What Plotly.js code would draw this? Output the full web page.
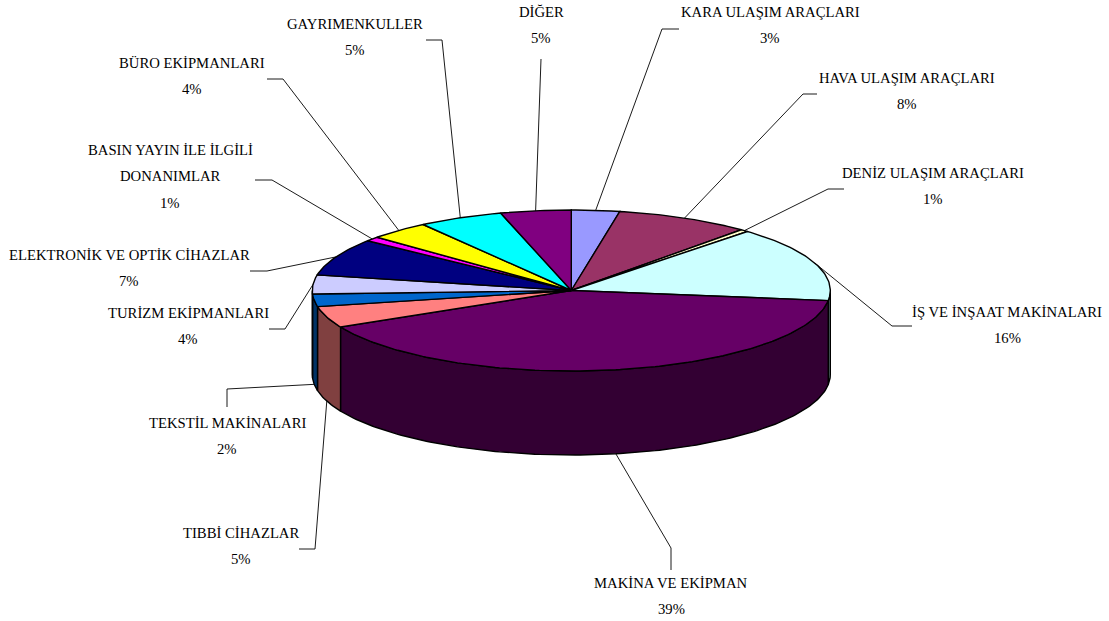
<!DOCTYPE html>
<html>
<head>
<meta charset="utf-8">
<script src="https://cdn.plot.ly/plotly-3.0.1.min.js"></script>
<style>html,body{margin:0;padding:0;background:#fff}#chart{width:1109px;height:621px}</style>
</head>
<body>
<div id="chart"></div>
<script>
// Data, clockwise from 12 o'clock
const categories = ["KARA ULAŞIM ARAÇLARI","HAVA ULAŞIM ARAÇLARI","DENİZ ULAŞIM ARAÇLARI","İŞ VE İNŞAAT MAKİNALARI","MAKİNA VE EKİPMAN","TIBBİ CİHAZLAR","TEKSTİL MAKİNALARI","TURİZM EKİPMANLARI","ELEKTRONİK VE OPTİK CİHAZLAR","BASIN YAYIN İLE İLGİLİ<br>DONANIMLAR","BÜRO EKİPMANLARI","GAYRIMENKULLER","DİĞER"];
const sliceShares = [3.0,8.4,0.5,15.1,40.5,4.3,2.5,3.8,7.5,0.9,3.8,5.3,4.4];
const printedPercents = ["3%","8%","1%","16%","39%","5%","2%","4%","7%","1%","4%","5%","5%"];

// Styling
const sliceColors = ["#9999FF","#993366","#FFFFCC","#CCFFFF","#660066","#FF8080","#0066CC","#CCCCFF","#000080","#FF00FF","#FFFF00","#00FFFF","#800080"];
const W = 1109, H = 621;
const CX = 571.3, CY = 290.5, RX = 259, RY = 80.5, DEPTH = 84;
const FONT = {family:'"Liberation Serif","Times New Roman",serif', size:14.7, color:'#000'};
const LINE_GAP = 26.3;
// Label placement: [centre x, first line y], and the leader's elbow points from the text outward
const labelPlace = [[770,12],[907,78],[933,173],[1007,312],[671,583],[241,533],[227,423],[188,313],[129,255],[170,150],[192,63],[355,24],[541,12]];
const leaderElbows = [
  [[679,29],[662,29]],
  [[817,94],[803,94]],
  [[844,189],[828,189]],
  [[912,326],[892,326]],
  [[671,570],[671,548]],
  [[299,549],[315,549]],
  [[227,407],[227,389]],
  [[269,329],[285,329]],
  [[250,271],[267,271]],
  [[255,180],[272,180]],
  [[267,79],[283,79]],
  [[426,40],[442,40]],
  [[541,59]]
];

const darken = hex => '#' + [1,3,5].map(i => Math.round(parseInt(hex.substr(i,2),16)/2).toString(16).padStart(2,'0')).join('');
const rimX = t => CX + RX*Math.sin(t*Math.PI/180);
const rimY = t => CY - RY*Math.cos(t*Math.PI/180);
const arc = (a,b) => { const n = Math.max(2,Math.ceil(Math.abs(b-a)))+1, o=[]; for(let i=0;i<n;i++) o.push(a+(b-a)*i/(n-1)); return o; };

const total = sliceShares.reduce((a,b)=>a+b,0);
let acc = 0;
const spans = sliceShares.map(v => { const a = acc/total*360; acc += v; return [a, acc/total*360]; });

const traces = [];
const polygon = (xs,ys,fill) => traces.push({type:'scatter',mode:'lines',x:xs,y:ys,fill:'toself',fillcolor:fill,
  line:{color:'#000',width:1.4,shape:'linear'},hoverinfo:'skip',showlegend:false});

// Outer wall: only the front half of the rim (90..270 degrees) is visible
spans.forEach((s,i) => {
  const a = Math.max(s[0],90), b = Math.min(s[1],270);
  if (b <= a) return;
  const ts = arc(a,b), back = ts.slice().reverse();
  polygon(ts.map(rimX).concat(back.map(rimX),[rimX(a)]),
          ts.map(rimY).concat(back.map(t=>rimY(t)+DEPTH),[rimY(a)]),
          darken(sliceColors[i]));
});
// Top faces
spans.forEach((s,i) => {
  const ts = arc(s[0],s[1]);
  polygon([CX].concat(ts.map(rimX),[CX]), [CY].concat(ts.map(rimY),[CY]), sliceColors[i]);
});
// Leader lines: run from the label to the middle of each slice's visible rim
spans.forEach((s,i) => {
  const m = (s[0]+s[1])/2;
  const ax = rimX(m), ay = rimY(m) + (m>90 && m<270 ? DEPTH : 0);
  const pts = leaderElbows[i].concat([[ax,ay]]);
  traces.push({type:'scatter',mode:'lines',x:pts.map(p=>p[0]),y:pts.map(p=>p[1]),
    line:{color:'#000',width:0.9},hoverinfo:'skip',showlegend:false});
});

// Labels: one annotation per line
const annotations = [];
categories.forEach((name,i) => {
  const lines = name.split('<br>').concat([printedPercents[i]]);
  lines.forEach((txt,j) => annotations.push({x:labelPlace[i][0],y:labelPlace[i][1]+j*LINE_GAP,xref:'x',yref:'y',
    text:txt,showarrow:false,xanchor:'center',yanchor:'middle',font:FONT}));
});

Plotly.newPlot('chart',traces,{
  width:W,height:H,margin:{l:0,r:0,t:0,b:0},paper_bgcolor:'#fff',plot_bgcolor:'#fff',showlegend:false,
  xaxis:{range:[0,W],visible:false,fixedrange:true},
  yaxis:{range:[H,0],visible:false,fixedrange:true},
  annotations:annotations
},{staticPlot:true,displayModeBar:false});
</script>
</body>
</html>
